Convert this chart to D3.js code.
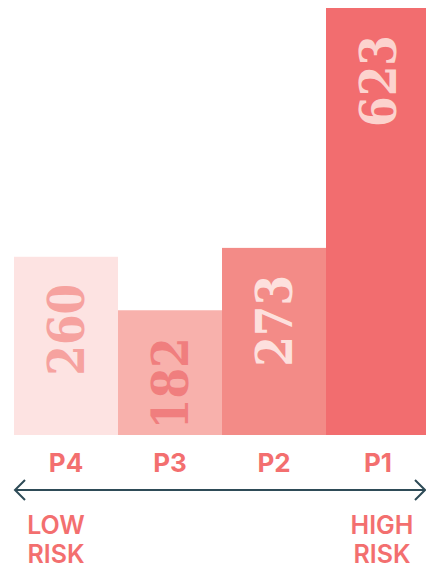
<!DOCTYPE html>
<html>
<head>
<meta charset="utf-8">
<script src="https://cdn.jsdelivr.net/npm/d3@7"></script>
<style>
  html, body { margin: 0; padding: 0; background: #fff; }
  svg { display: block; }
</style>
</head>
<body>
<div id="chart"></div>
<script>
// chart data
var categories = ["P4", "P3", "P2", "P1"];
var values = [260, 182, 273, 623];
var barColors = ["#fde3e2", "#f8b1ac", "#f38b87", "#f26d6f"];
var valueColors = ["#f6a29f", "#f07e7e", "#fde0dd", "#fcd3ce"];
var riskLabels = [["LOW", "RISK"], ["HIGH", "RISK"]];

var width = 426;
var height = 569;
var labelColor = "#f36f6f";
var arrowColor = "#2e4b57";

var svg = d3.select("#chart").append("svg")
    .attr("width", width)
    .attr("height", height);

// scales
var x = d3.scaleBand()
    .domain(categories)
    .range([14, 430])
    .padding(0);

var y = d3.scaleLinear()
    .domain([0, 623])
    .range([435, 8]);

var barData = categories.map(function(c, i) {
  return { name: c, value: values[i], fill: barColors[i], txt: valueColors[i] };
});

svg.selectAll(".bar")
    .data(barData)
  .enter().append("rect")
    .attr("class", "bar")
    .attr("x", function(d) { return x(d.name); })
    .attr("y", function(d) { return y(d.value); })
    .attr("width", x.bandwidth())
    .attr("height", function(d) { return y(0) - y(d.value); })
    .style("fill", function(d) { return d.fill; });

// rotated value labels
svg.selectAll(".val")
    .data(barData)
  .enter().append("text")
    .attr("class", "val")
    .attr("transform", function(d) {
      var cx = x(d.name) + x.bandwidth() / 2;
      var cy = y(d.value) + 73;
      return "translate(" + cx + "," + cy + ") rotate(-90) scale(1,1.15)";
    })
    .attr("text-anchor", "middle")
    .attr("dy", "0.36em")
    .style("font-family", "'DejaVu Serif', serif")
    .style("font-weight", "bold")
    .style("font-size", "44px")
    .style("fill", function(d) { return d.txt; })
    .text(function(d) { return d.value; });

// category labels
svg.selectAll(".cat")
    .data(categories)
  .enter().append("text")
    .attr("class", "cat")
    .attr("x", function(d) { return x(d) + x.bandwidth() / 2; })
    .attr("y", 472)
    .attr("text-anchor", "middle")
    .style("font-family", "Inter, 'Noto Sans', sans-serif")
    .style("font-weight", "700")
    .style("font-size", "26px")
    .style("fill", labelColor)
    .text(function(d) { return d; });

// double headed arrow
var ay = 490;
svg.append("line")
    .attr("x1", 15).attr("x2", 424)
    .attr("y1", ay).attr("y2", ay)
    .style("stroke", arrowColor)
    .style("stroke-width", 2);

svg.append("path")
    .attr("d", "M25," + (ay - 10) + " L15," + ay + " L25," + (ay + 10))
    .style("fill", "none")
    .style("stroke", arrowColor)
    .style("stroke-width", 2);

svg.append("path")
    .attr("d", "M415," + (ay - 10) + " L425," + ay + " L415," + (ay + 10))
    .style("fill", "none")
    .style("stroke", arrowColor)
    .style("stroke-width", 2);

// risk labels
var riskX = [56, 382];
riskLabels.forEach(function(lines, i) {
  var t = svg.append("text")
      .attr("text-anchor", "middle")
      .style("font-family", "Inter, 'Noto Sans', sans-serif")
      .style("font-weight", "600")
      .style("font-size", "25px")
      .style("fill", labelColor);
  lines.forEach(function(l, j) {
    t.append("tspan")
        .attr("x", riskX[i])
        .attr("y", 534 + j * 29)
        .text(l);
  });
});
</script>
</body>
</html>
